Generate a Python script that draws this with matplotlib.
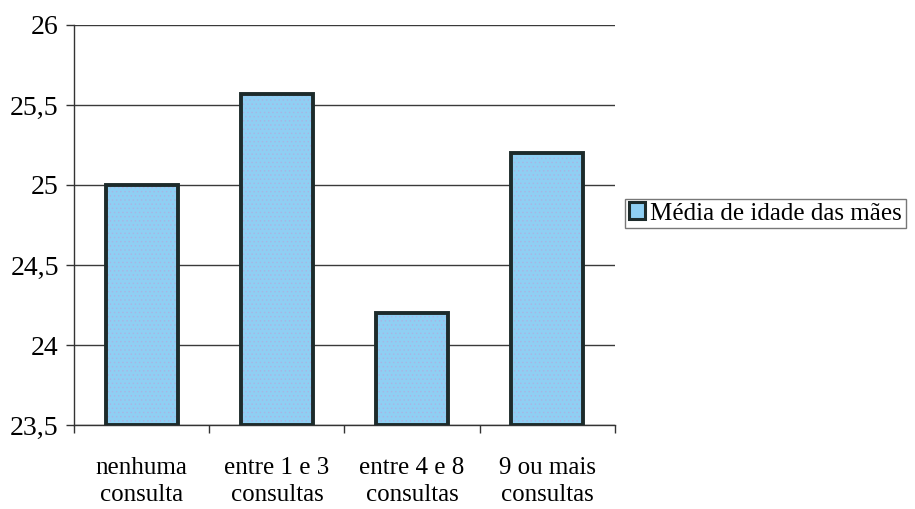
import matplotlib.pyplot as plt
import matplotlib.patches as mpatches

categorias = ['nenhuma\nconsulta', 'entre 1 e 3\nconsultas', 'entre 4 e 8\nconsultas', '9 ou mais\nconsultas']
media_idade = [25.0, 25.57, 24.2, 25.2]
y_ticks = [23.5, 24, 24.5, 25, 25.5, 26]
y_labels = ['23,5', '24', '24,5', '25', '25,5', '26']
serie = 'Média de idade das mães'


def main():
    plt.rcParams['font.family'] = ['Liberation Serif', 'DejaVu Serif']
    plt.rcParams['hatch.linewidth'] = 0.5

    fig = plt.figure(figsize=(9.15, 5.09), dpi=100)
    ax = fig.add_axes([0.081, 0.165, 0.591, 0.786])

    x = range(len(categorias))
    # preenchimento texturizado e depois o contorno escuro
    ax.bar(x, [v - 23.5 for v in media_idade], bottom=23.5, width=0.53,
           color='#8fcff3', edgecolor='#a9b4e4', hatch='....', linewidth=0, zorder=3)
    ax.bar(x, [v - 23.5 for v in media_idade], bottom=23.5, width=0.53,
           fill=False, edgecolor='#1d2b2b', linewidth=2.8, zorder=4)

    ax.set_xlim(-0.5, len(categorias) - 0.5)
    ax.set_ylim(23.5, 26)
    ax.set_yticks(y_ticks)
    ax.set_yticklabels(y_labels, fontsize=20)
    ax.set_xticks(list(x))
    ax.set_xticklabels(categorias, fontsize=18, linespacing=1.3)
    ax.set_xticks([i - 0.5 for i in range(len(categorias) + 1)], minor=True)
    ax.tick_params(axis='x', which='major', length=0, pad=23)
    ax.tick_params(axis='x', which='minor', length=6, width=1, color='#333333')
    ax.tick_params(axis='y', length=6, width=1, color='#333333', pad=5)

    ax.grid(axis='y', color='#3a3a3a', linewidth=1, zorder=1)
    for lado in ['top', 'right']:
        ax.spines[lado].set_visible(False)
    for lado in ['left', 'bottom']:
        ax.spines[lado].set_color('#333333')
        ax.spines[lado].set_linewidth(1)

    marcador = mpatches.Patch(facecolor='#8fcff3', edgecolor='#1d2b2b', linewidth=2.2, label=serie)
    leg = fig.legend(handles=[marcador], loc='center left',
                     bbox_to_anchor=(625 / 915, 1 - 213.5 / 509), fontsize=18,
                     frameon=True, fancybox=False, handlelength=0.65, handleheight=0.65,
                     handletextpad=0.2, borderpad=0.15, borderaxespad=0)
    leg.get_frame().set_edgecolor('#555555')
    leg.get_frame().set_linewidth(1)

    fig.savefig('out.png', dpi=100)


if __name__ == '__main__':
    main()
